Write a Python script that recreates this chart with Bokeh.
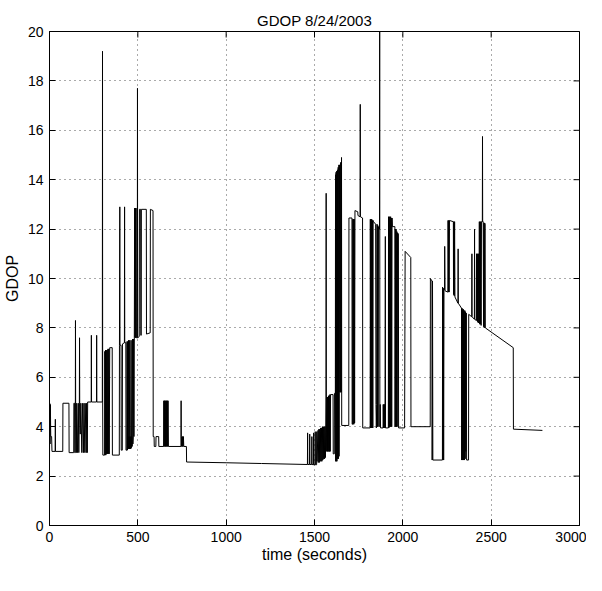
import math
from bokeh.plotting import figure
from bokeh.models import Range1d, FixedTicker
from bokeh.embed import file_html
from bokeh.resources import INLINE

# ---- data: GDOP samples (time in s, GDOP) ----
seg1_t = [0, 1, 3, 5, 7, 12, 14, 32, 33, 34, 75, 76, 110, 111, 137, 138, 142, 143, 146, 147, 148,
          152, 154, 158, 163, 166, 169, 170, 171, 174, 177, 183, 186, 192, 195, 200, 202, 208, 210,
          214, 216, 236, 237, 238, 266, 267, 268, 299, 300, 301, 302, 312]
seg1_v = [2.55, 4.95, 3.3, 4.9, 3.6, 3.6, 3.0, 3.0, 4.3, 3.0, 3.0, 4.95, 4.95, 2.95, 2.95, 4.95, 4.95, 2.95, 2.95, 8.3, 4.95,
          2.95, 4.95, 2.95, 4.95, 2.95, 4.95, 7.6, 4.95, 3.7, 4.95, 2.95, 4.95, 2.95, 4.95, 2.95, 4.95, 2.95, 4.95,
          2.95, 5.0, 5.0, 7.7, 5.0, 5.0, 7.7, 5.0, 5.0, 19.2, 5.0, 2.85, 2.85]

seg2_t = [313, 315, 317, 319, 321, 323, 326, 328, 331, 333, 336, 338, 341, 343, 355, 356, 395, 396, 398, 399,
          405, 406, 412, 413, 424, 425, 426, 432, 433, 438, 439, 441, 443, 445, 447, 449, 450, 452, 454, 456,
          458, 460, 462, 464, 466, 468, 470, 472, 474, 476, 478, 480, 482, 484, 486, 488, 490, 492, 497, 498,
          499, 508, 509, 516, 517, 519, 520, 548, 549, 570, 571, 586, 587, 592, 593, 602, 603, 618, 619, 646]
seg2_v = [7.05, 2.85, 7.1, 2.85, 7.1, 2.9, 7.1, 2.9, 7.15, 2.9, 7.15, 2.9, 7.2, 7.2, 7.2, 2.85, 2.85, 7.3, 12.9, 7.3,
          7.3, 3.05, 3.05, 7.35, 7.4, 12.9, 7.4, 7.4, 3.05, 3.05, 7.45, 3.05, 7.45, 3.1, 7.5, 3.1, 3.6, 3.1, 7.5, 3.1,
          3.6, 3.1, 7.5, 3.15, 3.6, 3.2, 7.55, 3.3, 3.6, 7.55, 3.6, 7.6, 12.85, 7.6, 12.85, 7.6, 12.85, 7.6, 7.6, 17.7,
          7.6, 7.65, 12.8, 12.8, 7.7, 7.7, 12.8, 12.8, 7.75, 7.8, 12.8, 12.75, 3.6, 3.6, 3.2, 3.2, 3.6, 3.6, 3.2, 3.2]

seg3_t = [647, 649, 651, 653, 655, 657, 659, 661, 663, 665, 667, 669, 671, 673, 744, 745, 746, 748, 750, 752,
          754, 756, 758, 760, 775, 776, 1000, 1200, 1460]
seg3_v = [5.05, 3.2, 5.05, 3.2, 5.05, 3.2, 5.05, 3.2, 5.05, 3.2, 5.05, 3.2, 5.05, 3.2, 3.2, 5.05, 3.6, 3.2, 3.6, 3.2,
          3.6, 3.2, 3.6, 3.2, 3.2, 2.57, 2.54, 2.51, 2.47]

seg4_t = [1461, 1462, 1472, 1473, 1474, 1484, 1485, 1486, 1494, 1495, 1496, 1503, 1504, 1505, 1512, 1513, 1514,
          1520, 1521, 1525, 1527, 1530, 1532, 1535, 1537, 1540, 1542, 1545, 1547, 1550, 1552, 1555, 1557, 1560,
          1562, 1565, 1566, 1567, 1569, 1571, 1573, 1575, 1577, 1579, 1581, 1583, 1585, 1587, 1589, 1591, 1605,
          1606, 1612, 1613, 1618, 1619, 1620, 1622, 1623, 1626, 1627, 1630, 1631, 1634, 1635, 1638, 1639, 1642,
          1643, 1647, 1648, 1649, 1652, 1653, 1654, 1694]
seg4_v = [3.75, 2.47, 2.47, 3.7, 2.47, 2.47, 3.6, 2.47, 2.46, 3.75, 2.46, 2.46, 3.8, 2.46, 2.46, 3.8, 2.6,
          3.85, 2.55, 3.9, 2.55, 3.9, 2.6, 3.95, 2.6, 3.95, 2.6, 4.0, 2.65, 4.0, 2.7, 4.0, 2.7, 4.0,
          2.75, 5.2, 13.45, 5.2, 3.0, 5.2, 3.0, 5.2, 3.0, 5.25, 3.0, 5.25, 3.0, 5.3, 3.0, 5.3, 5.3,
          2.9, 2.9, 5.35, 5.35, 14.2, 2.6, 14.3, 2.6, 14.35, 2.6, 14.4, 2.7, 14.5, 2.7, 14.6, 2.8, 14.6,
          5.4, 5.4, 14.7, 5.4, 5.4, 14.9, 4.05, 4.05]

seg5_t = [1695, 1712, 1713, 1716, 1717, 1719, 1721, 1723, 1725, 1727, 1729, 1745, 1746, 1758, 1759, 1760, 1772,
          1773, 1815, 1816, 1818, 1820, 1822, 1824, 1826, 1828, 1830, 1832, 1834, 1846, 1848, 1850, 1852, 1854,
          1856, 1858, 1860, 1862, 1868, 1869, 1870, 1872, 1874, 1888, 1889, 1891, 1893, 1895, 1897, 1899, 1901,
          1902, 1918, 1919, 1921, 1923, 1925, 1927, 1929, 1931, 1933, 1935, 1937, 1939, 1941, 1955, 1956, 1958,
          1960, 1962, 1964, 1966, 1968, 1970, 1975, 1976, 2010]
seg5_v = [12.45, 12.45, 4.1, 4.1, 12.4, 4.1, 12.4, 4.1, 12.4, 4.15, 12.75, 12.7, 12.55, 12.5, 17.05, 12.5, 12.45,
          3.95, 3.95, 12.4, 3.95, 12.4, 3.95, 12.4, 3.95, 12.35, 3.95, 12.35, 12.3, 12.2, 4.9, 3.95, 4.9, 12.2,
          4.0, 12.15, 4.0, 12.1, 12.0, 20.5, 4.0, 4.9, 3.95, 3.95, 4.9, 3.95, 4.9, 3.95, 4.9, 3.95, 11.7,
          3.95, 3.95, 12.5, 3.95, 12.5, 4.0, 12.5, 4.0, 12.5, 4.0, 12.45, 4.0, 12.45, 12.1, 12.1, 4.0, 12.0,
          4.0, 12.0, 4.0, 11.9, 4.0, 11.85, 11.8, 3.95, 3.95]

seg6_t = [2013, 2045, 2046, 2155, 2156, 2165, 2166, 2168, 2170, 2224, 2225, 2227, 2229, 2231, 2233, 2236, 2237,
          2239, 2255, 2256, 2258, 2260, 2262, 2264, 2286, 2287, 2289, 2291, 2293, 2295, 2312, 2313, 2314, 2332,
          2333, 2335, 2337, 2339, 2341, 2343, 2345, 2347, 2349, 2351, 2353, 2355, 2357, 2359, 2361, 2372, 2373]
seg6_v = [11.1, 10.85, 4.0, 4.0, 10.0, 9.9, 2.65, 9.9, 2.65, 2.65, 9.65, 2.65, 9.6, 2.65, 9.6, 9.55, 11.3,
          9.5, 9.45, 12.35, 9.45, 12.35, 9.45, 12.35, 12.3, 9.35, 12.3, 9.3, 12.3, 9.25, 9.0, 11.2, 9.0, 8.8,
          2.65, 8.8, 2.65, 8.75, 2.65, 8.75, 2.65, 8.7, 2.65, 8.7, 2.7, 8.65, 3.0, 8.6, 2.65, 2.65, 8.55]

seg7_t = [2390, 2391, 2392, 2405, 2406, 2407, 2416, 2417, 2419, 2421, 2423, 2425, 2427, 2429, 2431, 2433, 2435,
          2437, 2439, 2441, 2443, 2445, 2450, 2451, 2452, 2455, 2457, 2459, 2461, 2463, 2466, 2467, 2625, 2626, 2790]
seg7_v = [8.45, 11.0, 8.45, 8.35, 12.0, 8.35, 8.3, 11.0, 8.3, 11.0, 8.25, 11.0, 8.2, 11.0, 8.2, 12.3, 8.15,
          12.3, 8.15, 12.3, 8.1, 12.3, 12.3, 15.75, 12.3, 12.3, 8.05, 12.25, 8.0, 12.25, 12.2, 8.0, 7.2, 3.9, 3.85]

time_s = seg1_t + seg2_t + seg3_t + seg4_t + seg5_t + seg6_t + seg7_t
gdop = seg1_v + seg2_v + seg3_v + seg4_v + seg5_v + seg6_v + seg7_v

x_ticks = [0, 500, 1000, 1500, 2000, 2500, 3000]
y_ticks = [0, 2, 4, 6, 8, 10, 12, 14, 16, 18, 20]
x_min, x_max = 0, 3000
y_min, y_max = 0, 20

FONT = "Liberation Sans"

p = figure(frame_width=530, frame_height=494,
           x_range=Range1d(x_min, x_max), y_range=Range1d(y_min, y_max),
           output_backend="svg", toolbar_location=None,
           min_border_left=49, min_border_right=7, min_border_top=31, min_border_bottom=40)

p.title.text = "GDOP 8/24/2003"
p.title.align = "center"
p.title.text_font = FONT
p.title.text_font_style = "normal"
p.title.text_font_size = "15px"
p.title.text_color = "black"
p.title.standoff = 5

p.line(time_s, gdop, line_color="black", line_width=1)

# inward tick marks on the right and top borders (same ticks as the axes)
p.scatter([x_max] * len(y_ticks), y_ticks, marker="dash", size=12,
          line_color="black", line_width=1)
p.scatter(x_ticks, [y_max] * len(x_ticks), marker="dash", size=12, angle=math.pi / 2,
          line_color="black", line_width=1)

p.outline_line_color = "black"
p.outline_line_width = 1
p.background_fill_color = "white"
p.border_fill_color = "white"

for ax, ticks in ((p.xaxis[0], x_ticks), (p.yaxis[0], y_ticks)):
    ax.ticker = FixedTicker(ticks=ticks)
    ax.major_tick_in = 6
    ax.major_tick_out = 0
    ax.minor_tick_line_color = None
    ax.axis_line_color = "black"
    ax.major_tick_line_color = "black"
    ax.major_label_text_font = FONT
    ax.major_label_text_font_size = "14px"
    ax.major_label_text_color = "black"
    ax.axis_label_text_font = FONT
    ax.axis_label_text_font_size = "16px"
    ax.axis_label_text_font_style = "normal"
    ax.axis_label_text_color = "black"

p.xaxis.axis_label = "time (seconds)"
p.yaxis.axis_label = "GDOP"
p.xaxis.major_label_standoff = 6
p.yaxis.major_label_standoff = 6
p.xaxis.axis_label_standoff = 1
p.yaxis.axis_label_standoff = 4

for g, ticks in ((p.xgrid[0], x_ticks), (p.ygrid[0], y_ticks)):
    g.ticker = FixedTicker(ticks=ticks)
    g.grid_line_color = "#555555"
    g.grid_line_dash = "1 4"
    g.grid_line_width = 1

open("out.html", "w").write(file_html(p, INLINE))
